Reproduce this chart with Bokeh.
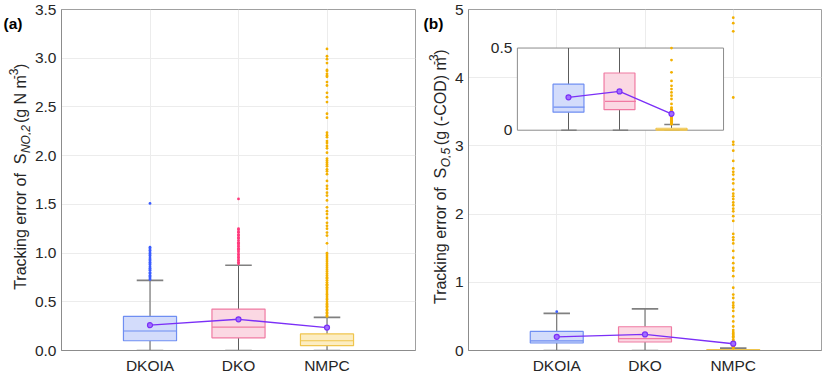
import numpy as np
from bokeh.plotting import figure
from bokeh.models import Range1d, FixedTicker, Label, NumeralTickFormatter
from bokeh.layouts import row
from bokeh.embed import file_html
from bokeh.resources import INLINE
from bokeh.core.properties import value

# ---------------- data ----------------
categories = ["DKOIA", "DKO", "NMPC"]

# panel (a): tracking error of S_NO,2
a_q1 = [0.10, 0.13, 0.05]
a_median = [0.20, 0.24, 0.10]
a_q3 = [0.35, 0.425, 0.17]
a_whisker_low = [0.0, 0.0, 0.0]
a_whisker_high = [0.72, 0.875, 0.34]
a_mean = [0.26, 0.32, 0.235]
a_out_dkoia = [0.73, 0.745, 0.76, 0.77, 0.79, 0.80, 0.82, 0.83, 0.845, 0.86, 0.88, 0.89,
               0.905, 0.92, 0.935, 0.95, 0.97, 0.98, 0.995, 1.01, 1.03, 1.045, 1.06, 1.51]
a_out_dko = [0.89, 0.905, 0.92, 0.93, 0.95, 0.96, 0.98, 0.99, 1.01, 1.025, 1.04, 1.05, 1.07,
             1.085, 1.10, 1.11, 1.13, 1.15, 1.16, 1.18, 1.19, 1.21, 1.22, 1.24, 1.25, 1.556]
a_out_nmpc = [0.35, 0.36, 0.38, 0.39, 0.41, 0.42, 0.44, 0.455, 0.47, 0.48, 0.50, 0.52, 0.53,
              0.55, 0.57, 0.58, 0.60, 0.62, 0.635, 0.65, 0.67, 0.68, 0.70, 0.72, 0.74, 0.75,
              0.77, 0.79, 0.81, 0.83, 0.85, 0.87, 0.89, 0.91, 0.93, 0.95, 0.97, 0.99, 1.0,
              1.10, 1.18, 1.21, 1.25, 1.28, 1.31, 1.36, 1.40, 1.43, 1.47, 1.54, 1.59, 1.62,
              1.66, 1.69, 1.74, 1.81, 1.84, 1.86, 1.89, 1.91, 1.93, 1.95, 1.97, 2.03, 2.075,
              2.10, 2.13, 2.15, 2.19, 2.21, 2.235, 2.39, 2.43, 2.55, 2.60, 2.645, 2.72, 2.755,
              2.81, 2.82, 2.84, 2.87, 2.88, 2.95, 2.99, 3.02, 3.095]
a_yticks = [0.0, 0.5, 1.0, 1.5, 2.0, 2.5, 3.0, 3.5]

# panel (b): tracking error of S_O,5
b_q1 = [0.11, 0.125, 0.0]
b_median = [0.14, 0.175, 0.004]
b_q3 = [0.28, 0.348, 0.012]
b_whisker_low = [0.0, 0.0, 0.0]
b_whisker_high = [0.545, 0.61, 0.035]
b_mean = [0.20, 0.236, 0.10]
b_out_dkoia = [0.57]
b_out_dko = []
b_out_nmpc = [0.037, 0.04, 0.045, 0.05, 0.055, 0.06, 0.064, 0.07, 0.075, 0.08, 0.085, 0.09,
              0.095, 0.10, 0.105, 0.11, 0.115, 0.12, 0.128, 0.138, 0.16, 0.19, 0.21, 0.23,
              0.25, 0.27, 0.30, 0.352, 0.427, 0.50, 0.58, 0.63, 0.66, 0.70, 0.77, 0.82, 0.92,
              1.09, 1.17, 1.21, 1.28, 1.36, 1.46, 1.57, 1.62, 1.66, 1.71, 1.90, 1.97, 2.04,
              2.08, 2.13, 2.17, 2.22, 2.26, 2.30, 2.36, 2.45, 2.51, 2.58, 2.62, 2.67, 2.78,
              2.93, 3.02, 3.06, 3.71, 4.68, 4.80, 4.88]
b_yticks = [0, 1, 2, 3, 4, 5]
inset_yticks = [0, 0.5]

# ---------------- style ----------------
FONT = "Liberation Sans"
TICK_SIZE = "15.5px"
edge_colors = ["#6f8ef2", "#f07aa2", "#efc54e"]
fill_colors = ["#d3dcfb", "#fbd8e3", "#fcedc2"]
point_colors = ["#3a5cff", "#ff3a7c", "#f3b000"]
MEAN_COLOR = "#7b2ff7"
WHISKER = "#5c5c5c"
CAP = "#808080"
GRID = "#ececec"
AXIS = "#8c8c8c"
TXT = "#262626"

H = 376
TOP = 9
FRAME_H = 341
BOTTOM = H - TOP - FRAME_H
LAB_W = 31

xs = np.arange(1, len(categories) + 1)


def base_fig(ymax, yticks, fmt, width, left, right):
    p = figure(width=width, height=H, x_range=Range1d(0, 4), y_range=Range1d(0, ymax),
               output_backend="svg", toolbar_location=None,
               min_border_left=left, min_border_right=right, min_border_top=TOP,
               min_border_bottom=BOTTOM)
    p.background_fill_color = "white"
    p.border_fill_color = "white"
    p.outline_line_color = "#a0a0a0"
    p.outline_line_width = 1
    p.xaxis.ticker = FixedTicker(ticks=list(xs))
    p.xaxis.major_label_overrides = {int(x): c for x, c in zip(xs, categories)}
    p.yaxis.ticker = FixedTicker(ticks=yticks)
    p.yaxis.formatter = NumeralTickFormatter(format=fmt)
    for ax in (p.xaxis[0], p.yaxis[0]):
        ax.axis_line_color = AXIS
        ax.major_tick_line_color = None
        ax.minor_tick_line_color = None
        ax.major_tick_out = 0
        ax.major_tick_in = 0
        ax.major_label_text_font = FONT
        ax.major_label_text_font_size = TICK_SIZE
        ax.major_label_text_color = TXT
    p.xaxis.major_label_standoff = 6
    p.yaxis.major_label_standoff = 5
    p.xgrid.ticker = FixedTicker(ticks=list(xs))
    p.ygrid.ticker = FixedTicker(ticks=yticks)
    p.xgrid.grid_line_color = GRID
    p.ygrid.grid_line_color = GRID
    return p


def draw_boxes(g, q1, med, q3, wlo, whi, mean, outs, ytop=None):
    q1 = np.array(q1); med = np.array(med); q3 = np.array(q3)
    wlo = np.array(wlo); whi = np.array(whi)
    whi_draw = np.minimum(whi, ytop) if ytop is not None else whi
    g.segment(x0=xs, y0=q3, x1=xs, y1=whi_draw, line_color=WHISKER, line_width=1)
    g.segment(x0=xs, y0=wlo, x1=xs, y1=q1, line_color=WHISKER, line_width=1)
    cap_hi = whi <= (ytop if ytop is not None else np.inf)
    g.segment(x0=(xs - 0.15)[cap_hi], y0=whi[cap_hi], x1=(xs + 0.15)[cap_hi], y1=whi[cap_hi],
              line_color=CAP, line_width=1.6)
    g.segment(x0=xs - 0.15, y0=wlo, x1=xs + 0.15, y1=wlo, line_color=CAP, line_width=1.6)
    g.vbar(x=xs, width=0.6, bottom=q1, top=q3, fill_color=fill_colors,
           line_color=edge_colors, line_width=1.2)
    g.segment(x0=xs - 0.3, y0=med, x1=xs + 0.3, y1=med, line_color=edge_colors, line_width=1.2)
    for x, vals, col in zip(xs, outs, point_colors):
        v = np.array(vals, dtype=float)
        if ytop is not None:
            v = v[v <= ytop]
        if len(v):
            g.scatter(x=np.full(len(v), x), y=v, size=2.8, marker="circle",
                      fill_color=col, line_color=None)
    g.line(x=xs, y=mean, line_color=MEAN_COLOR, line_width=1.4)
    g.scatter(x=xs, y=mean, size=5, marker="circle", fill_color="#a070ff",
              line_color=MEAN_COLOR, line_width=1.2)


# Arial-like advance widths (per 1000 em) used to lay out the composite axis titles
WID = {' ': 278, '\u00a0': 278, '(': 333, ')': 333, ',': 278, '-': 333, '2': 556, '3': 556,
       '5': 556, 'A': 667, 'C': 722, 'D': 722, 'N': 722, 'O': 778, 'S': 667, 'T': 611,
       'a': 556, 'c': 500, 'e': 556, 'f': 278, 'g': 556, 'i': 222, 'k': 500, 'm': 833,
       'n': 556, 'o': 556, 'r': 333}


def tw(s, size):
    return sum(WID.get(ch, 556) for ch in s) * size / 1000.0


def label_fig(width, pieces, base_x, panel_tag):
    """pieces: (text, font px, baseline shift px, style, gap before px)"""
    f = figure(width=width, height=H, x_range=Range1d(0, width), y_range=Range1d(0, H),
               output_backend="svg", toolbar_location=None, min_border=0,
               min_border_left=0, min_border_right=0, min_border_top=0, min_border_bottom=0,
               x_axis_location=None, y_axis_location=None)
    f.outline_line_color = None
    f.xgrid.visible = False
    f.ygrid.visible = False
    f.background_fill_color = "white"
    f.border_fill_color = "white"
    center = TOP + FRAME_H / 2.0 - 1.5     # page y of the title centre
    total = sum(g + tw(t, s) for t, s, _, _, g in pieces)
    start = center + total / 2.0          # page y where the rotated text begins
    cum = 0.0
    for i, (t, s, shift, style, g) in enumerate(pieces):
        cum += g
        if i == 0:
            # anchor the first run at its end so the junction with the subscript is exact
            cum += tw(t, s)
            y, align = H - (start - cum), "right"
        else:
            y, align = H - (start - cum), "left"
            cum += tw(t, s)
        f.add_layout(Label(x=base_x + shift, y=y, x_units="data", y_units="data", text=t,
                           angle=np.pi / 2, text_align=align, text_baseline="alphabetic",
                           text_font=FONT, text_font_size=f"{s}px", text_font_style=style,
                           text_color=TXT))
    f.add_layout(Label(x=3, y=H - 15, x_units="data", y_units="data", text=panel_tag,
                       text_align="left", text_baseline="middle", text_font=FONT,
                       text_font_size="15.5px", text_font_style="bold", text_color="black"))
    return f


NB = "\u00a0"

# ---------------- panel (a) ----------------
fa = label_fig(LAB_W, [("Tracking error of" + NB + NB + "S", 16, 0, "normal", 0),
                       ("NO,2", 12, 5, "italic", 0.5),
                       ("(g N m", 16, 0, "normal", 5),
                       ("-3", 12, -7, "normal", 0.5),
                       (")", 16, 0, "normal", 0.5)], 20, "(a)")
p1 = base_fig(3.5, a_yticks, "0.0", 420 - LAB_W, 58 - LAB_W, 5)
draw_boxes(p1, a_q1, a_median, a_q3, a_whisker_low, a_whisker_high, a_mean,
           [a_out_dkoia, a_out_dko, a_out_nmpc])

# ---------------- panel (b) ----------------
fb = label_fig(LAB_W, [("Tracking error of" + NB + NB + "S", 16, 0, "normal", 0),
                       ("O,5", 12, 5, "italic", 0.5),
                       ("(g (-COD) m", 16, 0, "normal", 5),
                       ("-3", 12, -7, "normal", 0.5),
                       (")", 16, 0, "normal", 0.5)], 20, "(b)")
p2 = base_fig(5, b_yticks, "0", 410 - LAB_W, 465 - 420 - LAB_W, 9)
draw_boxes(p2, b_q1, b_median, b_q3, b_whisker_low, b_whisker_high, b_mean,
           [b_out_dkoia, b_out_dko, b_out_nmpc])

# inset (zoom of panel b, 0 .. 0.5) drawn through a sub-coordinate mapping
INSET_YMAX = 0.5
inset = p2.subplot(x_source=Range1d(0, 4), y_source=Range1d(0, INSET_YMAX),
                   x_target=Range1d(0.554, 2.89), y_target=Range1d(3.23, 4.435))
inset.quad(left=[0], right=[4], bottom=[0], top=[INSET_YMAX], fill_color="white",
           line_color=AXIS, line_width=1)
draw_boxes(inset, b_q1, b_median, b_q3, b_whisker_low, b_whisker_high, b_mean,
           [b_out_dkoia, b_out_dko, b_out_nmpc], ytop=INSET_YMAX)
inset.text(x=[0] * len(inset_yticks), y=inset_yticks, text=[f"{t:g}" for t in inset_yticks],
           x_offset=-5, text_align="right", text_baseline="middle",
           text_font=value(FONT), text_font_size=TICK_SIZE, text_color=TXT)

layout = row(fa, p1, fb, p2)
open("out.html", "w").write(file_html(layout, INLINE))
